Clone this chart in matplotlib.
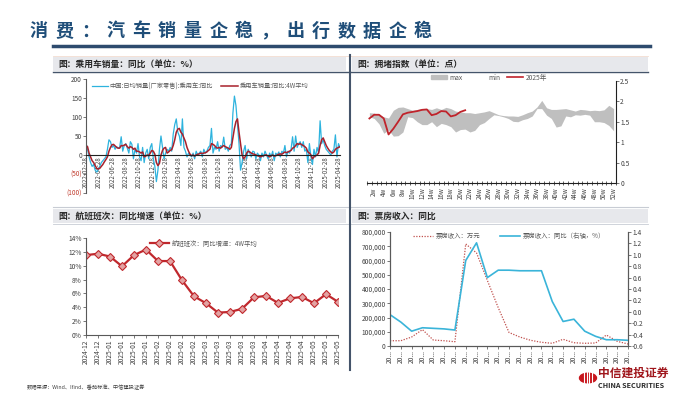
import numpy as np
import pandas as pd
import matplotlib
matplotlib.use('Agg')
import matplotlib.pyplot as plt
import matplotlib.ticker as mticker
from matplotlib.patches import Rectangle, Circle, Patch
from matplotlib.lines import Line2D

plt.rcParams['font.family'] = ['Noto Sans CJK SC', 'DejaVu Sans']
plt.rcParams['axes.unicode_minus'] = False

# ---------------- data ----------------
# 乘用车销量 同比（周度）
car_daily = [30, 15, -5, -20, -30, -25, -40, -45, -38, -30, -20, -15, -10, -5, 15, 40, 35, 20, 25, 15,
             22, 18, 20, 48, 10, 25, 30, 18, 5, 35, 28, -10, 15, 5, 30, -5, -15, 20, -20, 5,
             15, -10, 20, 30, -10, -30, -70, -40, 15, 50, 20, -10, 5, 15, 10, 20, 10, 55, 80, 95,
             60, 50, 25, 95, 20, 10, -5, 5, 0, -5, 5, -10, 10, 0, 5, 10, -5, 15, 5, 10,
             20, 25, 70, 5, 20, 15, 35, 10, 25, 20, 47, 15, 20, 10, 25, 30, 110, 155, 130, 80,
             30, -40, -20, 10, 25, -10, 15, 5, -5, 10, 8, -10, 5, 0, -15, 5, -5, 10, 0, -10,
             5, -5, 10, -15, 5, 0, 8, -5, 10, 5, 25, -5, 10, 5, 15, 48, 10, 50, 20, 30,
             35, 20, 35, 10, 15, -20, 30, -5, -25, 15, -5, 20, 5, 90, 30, 40, 25, 15, 10, 5,
             0, 10, 15, 53, -5, 30, 20]
car_4w = [25, 22, 5, -5, -15, -20, -28, -35, -37, -35, -30, -25, -18, -12, -5, 10, 20, 27, 28, 24,
          20, 18, 18, 25, 24, 26, 28, 22, 18, 22, 20, 15, 18, 10, 10, 8, 5, 8, -5, -3,
          0, -2, 5, 12, 10, 2, -20, -28, -22, 0, 12, 18, 20, 5, 8, 12, 14, 25, 40, 60,
          68, 70, 60, 55, 45, 35, 20, 10, 2, -2, 0, -3, 0, 2, 3, 5, 4, 5, 6, 8,
          12, 15, 30, 28, 25, 20, 18, 20, 18, 22, 25, 22, 20, 18, 15, 20, 45, 70, 88, 95,
          60, 30, 0, -10, -5, 5, 10, 8, 5, 3, 2, 0, -2, -3, -5, -3, -2, 0, 0, -3,
          -5, -2, 0, -3, -2, 0, 2, 3, 2, 5, 8, 6, 8, 10, 12, 18, 20, 25, 30, 28,
          30, 27, 25, 22, 18, 8, 5, 0, -10, -5, -2, 0, 5, 25, 40, 45, 35, 25, 18, 12,
          8, 5, 8, 15, 18, 20, 22]
car_ticks = ['2022-02-28', '2022-04-28', '2022-06-28', '2022-08-28', '2022-10-28', '2022-12-28',
             '2023-02-28', '2023-04-28', '2023-06-28', '2023-08-28', '2023-10-28', '2023-12-28',
             '2024-02-28', '2024-04-28', '2024-06-28', '2024-08-28', '2024-10-28', '2024-12-28',
             '2025-02-28', '2025-04-28']

# 拥堵指数
cong_max = [1.72, 1.71, 1.67, 1.62, 1.59, 1.78, 1.85, 1.86, 1.82, 1.78, 1.80, 1.82, 1.82, 1.80, 1.84, 1.80,
            1.85, 1.82, 1.76, 1.74, 1.72, 1.72, 1.70, 1.72, 1.74, 1.77, 1.72, 1.67, 1.65, 1.64, 1.64, 1.63,
            1.67, 1.72, 1.76, 1.86, 2.02, 1.84, 1.80, 1.80, 1.81, 1.82, 1.79, 1.76, 1.80, 1.79, 1.77, 1.78,
            1.77, 1.79, 1.90, 1.82]
cong_min = [1.62, 1.58, 1.45, 1.22, 1.30, 1.15, 1.16, 1.25, 1.62, 1.60, 1.50, 1.43, 1.43, 1.50, 1.38, 1.46,
            1.43, 1.38, 1.25, 1.31, 1.32, 1.25, 1.29, 1.43, 1.48, 1.58, 1.67, 1.65, 1.62, 1.58, 1.51, 1.50,
            1.55, 1.58, 1.64, 1.82, 1.82, 1.66, 1.58, 1.37, 1.40, 1.64, 1.62, 1.67, 1.66, 1.68, 1.66, 1.50,
            1.50, 1.48, 1.41, 1.28]
cong_2025 = [1.58, 1.67, 1.67, 1.58, 1.19, 1.33, 1.50, 1.68, 1.72, 1.74, 1.76, 1.79, 1.80, 1.66, 1.69,
             1.76, 1.75, 1.63, 1.66, 1.74, 1.78]

# 航班班次 同比增速 4W平均
flight_labels = ['2024-12', '2024-12', '2025-01', '2025-01', '2025-01', '2025-01', '2025-02', '2025-02',
                 '2025-02', '2025-02', '2025-03', '2025-03', '2025-03', '2025-03', '2025-03', '2025-04',
                 '2025-04', '2025-04', '2025-04', '2025-05', '2025-05', '2025-05']
flight_yoy = [11.5, 11.7, 11.3, 9.9, 11.5, 12.3, 10.65, 10.65, 7.9, 5.6, 4.6, 3.25, 3.35, 3.8, 5.45,
              5.65, 4.65, 5.3, 5.5, 4.6, 5.9, 4.8]

# 票房收入
box_labels = ['20...'] * 23
box_rev = [37000, 37000, 63000, 115000, 42000, 37000, 30000, 716000, 653000, 460000, 270000, 95000,
           63000, 40000, 26000, 19000, 47000, 23000, 19000, 21000, 77000, 33000, 14000]
box_yoy = [-0.05, -0.18, -0.34, -0.28, -0.29, -0.30, -0.32, 0.90, 1.21, 0.60, 0.73, 0.73, 0.72, 0.72,
           0.72, 0.18, -0.17, -0.13, -0.34, -0.43, -0.49, -0.49, -0.50]

# ---------------- figure ----------------
W, H = 700, 394
fig = plt.figure(figsize=(7, 3.94), dpi=100)
BLUE = '#1f4e79'
DARK = '#44546a'
CYAN = '#2db3de'
RED = '#a8202b'
AX = '#595959'


def ax_at(x0, y0, x1, y1):
    return fig.add_axes([x0 / W, 1 - y1 / H, (x1 - x0) / W, (y1 - y0) / H])


def rect(x0, y0, x1, y1, color):
    fig.add_artist(Rectangle((x0 / W, 1 - y1 / H), (x1 - x0) / W, (y1 - y0) / H,
                             transform=fig.transFigure, color=color, lw=0, zorder=0))


def hline(x0, x1, y, color, lw):
    fig.add_artist(Line2D([x0 / W, x1 / W], [1 - y / H, 1 - y / H], transform=fig.transFigure,
                          color=color, lw=lw))


# title
title = '消费：汽车销量企稳，出行数据企稳'
for i, ch in enumerate(title):
    fig.text((30 + i * 25.6) / W, 1 - 31 / H, ch, fontsize=13, fontweight='bold', color=BLUE,
             ha='left', va='center')
hline(53, 650, 46, '#2e4b6e', 2.5)

# panel headers
headers = [(53, 57, 346, 71, '图：乘用车销量：同比（单位：%）'),
           (352, 57, 648, 71, '图：拥堵指数（单位：点）'),
           (53, 209, 346, 223, '图：航班班次：同比增速（单位：%）'),
           (352, 209, 648, 223, '图：票房收入：同比')]
for x0, y0, x1, y1, t in headers:
    rect(x0, y0, x1, y1, '#e7e8ec')
    fig.text((x0 + 5) / W, 1 - (y0 + y1) / 2 / H, t, fontsize=6.3, fontweight='bold', color='#262626',
             ha='left', va='center')
hline(53, 648, 72, DARK, 1.0)
hline(53, 648, 56, '#f2dcd0', 0.6)
hline(53, 648, 207, '#c8ccd4', 0.8)
hline(53, 648, 224, '#c8ccd4', 0.6)
fig.add_artist(Line2D([350 / W, 350 / W], [1 - 55 / H, 1 - 370 / H], transform=fig.transFigure,
                      color=DARK, lw=1.5))

# ---- top left: 乘用车销量 ----
ax1 = ax_at(86, 79, 340, 193)
ax1.spines['bottom'].set_position(('data', 0))
car_dates = pd.date_range('2022-02-28', periods=len(car_daily), freq='7D')
ax1.plot(car_dates, car_daily, color=CYAN, lw=0.9, label='中国:日均销量(厂家零售):乘用车:同比')
ax1.plot(car_dates, car_4w, color=RED, lw=1.1, label='乘用车销量:同比:4W平均')
ax1.set_xlim(car_dates[0], car_dates[-1])
ax1.set_ylim(-100, 200)
ax1.set_yticks([200, 150, 100, 50, 0, -50, -100])
ax1.set_yticklabels(['200', '150', '100', '50', '0', '(50)', '(100)'])
ax1.set_xticks(pd.to_datetime(car_ticks))
ax1.set_xticklabels(car_ticks)
ax1.spines['top'].set_visible(False)
ax1.spines['right'].set_visible(False)
ax1.spines['left'].set_color(AX)
ax1.spines['bottom'].set_color('#202020')
ax1.tick_params(axis='y', labelsize=4.6, length=2, width=0.5, pad=1, color='#404040')
ax1.tick_params(axis='x', labelsize=4.4, length=0, pad=1, labelrotation=90, labelcolor='#404040')
for lab, v in zip(ax1.get_yticklabels(), [200, 150, 100, 50, 0, -50, -100]):
    lab.set_color('#c0392b' if v < 0 else '#404040')
ax1.legend(loc='upper left', bbox_to_anchor=(0.0, 1.02), ncol=2, frameon=False, fontsize=4.5,
           handlelength=2.6, columnspacing=1.3, handletextpad=0.3, labelcolor='#595959')
ax1.patch.set_alpha(0)

# ---- top right: 拥堵指数 ----
ax2 = ax_at(367, 80.7, 616, 183.3)
weeks = np.arange(1, len(cong_max) + 1)
ax2.fill_between(weeks, cong_min, cong_max, color='#bfbfbf', lw=0)
ax2.plot(weeks[:len(cong_2025)], cong_2025, color='#c0232b', lw=1.3)
ax2.set_xlim(0.5, 52.5)
ax2.set_ylim(0, 2.5)
ax2.yaxis.tick_right()
ax2.set_yticks([0, 0.5, 1, 1.5, 2, 2.5])
ax2.set_yticklabels(['0', '0.5', '1', '1.5', '2', '2.5'])
ax2.set_xticks(np.arange(2, 53, 2))
ax2.set_xticklabels([f'{w}w' for w in range(2, 53, 2)], rotation=90)
ax2.set_xticks(np.arange(0.5, 53, 1), minor=True)
ax2.tick_params(axis='x', which='major', length=0, labelsize=4.4, colors='#404040', pad=3)
ax2.tick_params(axis='x', which='minor', length=2.5, width=0.5, direction='inout', color='#202020')
ax2.tick_params(axis='y', labelsize=4.8, length=2, width=0.5, colors='#404040', pad=1)
for s in ['top', 'left']:
    ax2.spines[s].set_visible(False)
ax2.spines['right'].set_color('#202020')
ax2.spines['bottom'].set_color('#202020')
leg_h = [Patch(color='#bfbfbf'), Patch(color='white'), Line2D([], [], color='#c0232b', lw=1.2)]
ax2.legend(leg_h, ['max', 'min', '2025年'], loc='center', bbox_to_anchor=(0.49, 1.03), ncol=3,
           frameon=False, fontsize=4.8, handlelength=2.4, handleheight=0.6, columnspacing=1.0,
           handletextpad=0.4, labelcolor='#595959')
ax2.patch.set_alpha(0)

# ---- bottom left: 航班班次 ----
ax3 = ax_at(86, 237.7, 338, 335.3)
xf = np.arange(len(flight_yoy))
ax3.plot(xf, np.array(flight_yoy) / 100, color='#c0282d', lw=1.6, marker='D', ms=3.6,
         mfc='#e3a3a3', mec='#c0282d', mew=0.8, label='航班班次：同比增速：4W平均')
ax3.set_xlim(0, len(flight_yoy) - 1)
ax3.set_ylim(0, 0.14)
ax3.set_yticks(np.arange(0, 0.141, 0.02))
ax3.yaxis.set_major_formatter(mticker.PercentFormatter(1.0, decimals=0))
ax3.set_xticks(xf)
ax3.set_xticklabels(flight_labels, rotation=90)
for s in ['top', 'right']:
    ax3.spines[s].set_visible(False)
ax3.spines['left'].set_color(AX)
ax3.spines['bottom'].set_color(AX)
ax3.tick_params(axis='both', labelsize=4.8, length=2, width=0.5, colors='#404040', pad=1)
ax3.legend(loc='upper left', bbox_to_anchor=(0.23, 1.04), frameon=False, fontsize=4.6,
           handlelength=3, handletextpad=0.4, labelcolor='#595959')

# ---- bottom right: 票房收入 ----
ax4 = ax_at(390, 232, 628, 346)
xb = np.arange(len(box_rev))
ax4.plot(xb, box_rev, color='#c0504d', lw=0.9, ls=(0, (1, 1.2)), label='票房收入：万元')
ax4.set_xlim(0, len(box_rev) - 1)
ax4.set_ylim(0, 800000)
ax4.set_yticks(np.arange(0, 800001, 100000))
ax4.yaxis.set_major_formatter(mticker.FuncFormatter(lambda v, p: f'{int(v):,}'))
ax4.set_xticks(xb)
ax4.set_xticklabels(box_labels, rotation=90)
ax4b = ax4.twinx()
ax4b.plot(xb, box_yoy, color='#3ab4d9', lw=1.2, label='票房收入：同比（右轴，%）')
ax4b.set_ylim(-0.6, 1.4)
ax4b.set_yticks(np.arange(-0.6, 1.41, 0.2))
ax4b.yaxis.set_major_formatter(mticker.FuncFormatter(lambda v, p: f'{v:.1f}' if abs(v) > 1e-9 else '0.0'))
for a in (ax4, ax4b):
    a.spines['top'].set_visible(False)
    for s in ['left', 'right', 'bottom']:
        a.spines[s].set_color(AX)
    a.tick_params(axis='both', labelsize=4.8, length=2, width=0.5, colors='#404040', pad=1)
h1, l1 = ax4.get_legend_handles_labels()
h2, l2 = ax4b.get_legend_handles_labels()
ax4b.legend(h1 + h2, l1 + l2, loc='center', bbox_to_anchor=(0.5, 0.965), ncol=2, frameon=False,
            fontsize=4.6, handlelength=3.2, columnspacing=3.0, handletextpad=0.4, labelcolor='#595959')

# footer
fig.text(27 / W, 1 - 387 / H, '数据来源：Wind、Ifind、番茄标准、中信建投证券', fontsize=3.8, color='#404040',
         ha='left', va='center')
fig.add_artist(Circle((588 / W, 1 - 378 / H), 8.5 / W, transform=fig.transFigure, color='#c8161d'))
for dx in (-4, -1.5, 1, 3.5):
    fig.add_artist(Line2D([(588 + dx) / W] * 2, [1 - 372 / H, 1 - 384 / H], transform=fig.transFigure,
                          color='white', lw=0.8))
fig.text(598 / W, 1 - 373 / H, '中信建投证券', fontsize=8.5, fontweight='bold', color='#a0161c',
         ha='left', va='center')
fig.text(598 / W, 1 - 386 / H, 'CHINA SECURITIES', fontsize=5.2, fontweight='bold', color='#2a2a2a',
         ha='left', va='center')

fig.savefig('out.png', dpi=100)
